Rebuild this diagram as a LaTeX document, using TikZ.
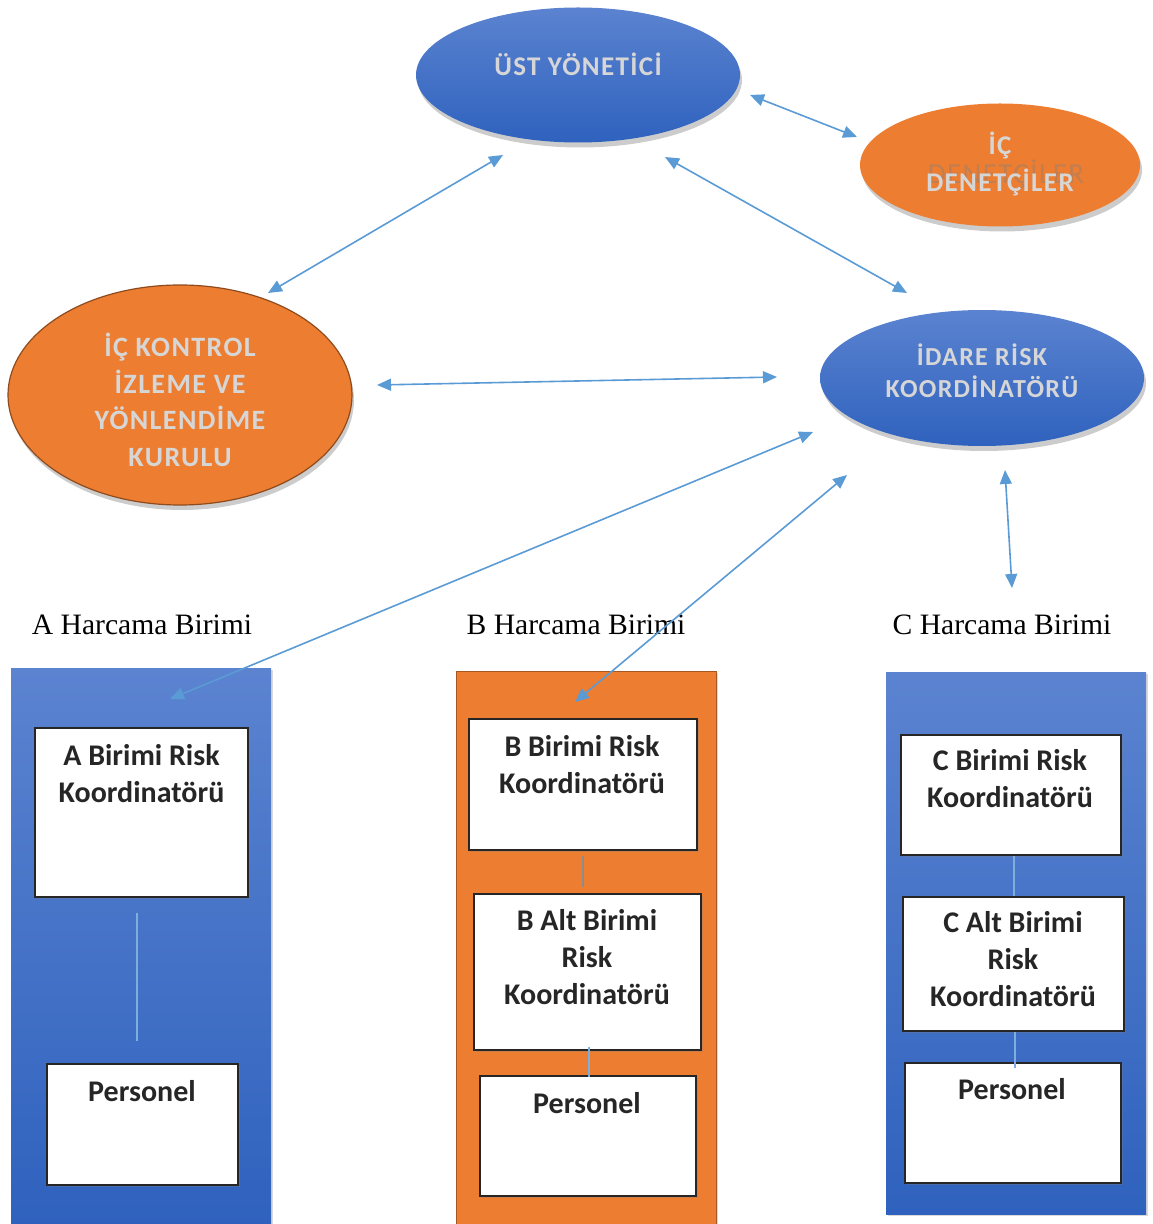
\documentclass[tikz,border=0pt]{standalone}
\usepackage{fontspec}
\setmainfont{Liberation Serif}
\newfontfamily\carlito{Carlito}
\newfontfamily\carlitols{Carlito}[LetterSpace=5]
\usetikzlibrary{shapes.geometric,arrows.meta,shadows}
\definecolor{bluetop}{HTML}{5B83D0}
\definecolor{bluebot}{HTML}{2F62BE}
\definecolor{orng}{HTML}{ED7D31}
\definecolor{conn}{HTML}{5B9BD5}
\definecolor{etxt}{HTML}{D6D6D6}
\tikzset{
  ell/.style={ellipse, inner sep=0pt, drop shadow={shadow xshift=1pt, shadow yshift=-2.5pt, opacity=0.4}},
  blueell/.style={ell, top color=bluetop, bottom color=bluebot},
  orell/.style={ell, fill=orng},
  etext/.style={font=\carlitols\bfseries\fontsize{13.5}{18.5}\selectfont, text=etxt, align=center, inner sep=0pt},
  link/.style={draw=conn, line width=0.8pt, {Triangle[length=7pt,width=6pt]}-{Triangle[length=7pt,width=6pt]}},
  outerblue/.style={rectangle, inner sep=0pt, top color=bluetop, bottom color=bluebot, drop shadow={shadow xshift=1pt, shadow yshift=-1pt, opacity=0.3}},
  outeror/.style={rectangle, inner sep=0pt, fill=orng, draw=orng!70!black, line width=0.4pt, drop shadow={shadow xshift=1pt, shadow yshift=-1pt, opacity=0.3}},
  inbox/.style={rectangle, draw=black!85, line width=1pt, fill=white, inner sep=0pt, drop shadow={shadow xshift=1pt, shadow yshift=-1pt, opacity=0.3}},
  btext/.style={font=\carlito\bfseries\fontsize{15}{18.5}\selectfont, align=center, inner sep=0pt, text=black!85},
  hlabel/.style={font=\fontsize{14.8}{17}\selectfont, inner sep=0pt},
  inline/.style={draw=conn!80, line width=0.6pt},
  greyline/.style={draw=black!45, line width=0.9pt}
}
\begin{document}
\begin{tikzpicture}[x=0.5pt,y=-0.5pt]
\useasboundingbox (0,0) rectangle (1152,1224);

% ellipses
\node[blueell, minimum width=162pt, minimum height=67.5pt] (ust) at (578,75) {};
\node[etext] (ustt) at (578,64) {ÜST YÖNETİCİ};

\node[orell, minimum width=140pt, minimum height=61.5pt] (ic) at (1000,165) {};
\node[etext, text=black!50, opacity=0.4, font=\carlitols\fontsize{14.5}{18}\selectfont] (icghost) at (1006,174) {DENETÇİLER};
\node[etext] (ict) at (1000,164) {İÇ\\DENETÇİLER};

\node[orell, draw=orng!60!black, line width=0.6pt, minimum width=172pt, minimum height=110pt] (kurul) at (180,395) {};
\node[etext, font=\carlitols\bfseries\fontsize{14}{18.3}\selectfont] (kurult) at (180,400) {İÇ KONTROL\\İZLEME VE\\YÖNLENDİME\\KURULU};

\node[blueell, minimum width=162pt, minimum height=68pt] (idare) at (982,378) {};
\node[etext, font=\carlitols\bfseries\fontsize{13}{16}\selectfont] (idaret) at (982,371) {İDARE RİSK\\KOORDİNATÖRÜ};

% labels
\node[hlabel] (la) at (142,625) {A Harcama Birimi};
\node[hlabel] (lb) at (576,625) {B Harcama Birimi};
\node[hlabel] (lc) at (1002,625) {C Harcama Birimi};

% outer boxes
\node[outerblue, minimum width=130pt, minimum height=278pt] (A) at (141,946) {};
\node[outeror, minimum width=130pt, minimum height=276.5pt] (B) at (586,947.5) {};
\node[outerblue, minimum width=130pt, minimum height=271pt] (C) at (1016,943) {};

% inner boxes
\node[inbox, minimum width=106.5pt, minimum height=84.5pt] (a1) at (141.5,812.5) {};
\node[inbox, minimum width=95.5pt, minimum height=60.5pt] (a2) at (142.5,1124.5) {};
\node[inbox, minimum width=114pt, minimum height=65.5pt] (b1) at (583,784.5) {};
\node[inbox, minimum width=113.5pt, minimum height=78pt] (b2) at (587.5,972) {};
\node[inbox, minimum width=108pt, minimum height=60pt] (b3) at (588,1136) {};
\node[inbox, minimum width=110pt, minimum height=60pt] (c1) at (1011,795) {};
\node[inbox, minimum width=110.5pt, minimum height=67pt] (c2) at (1013.5,964) {};
\node[inbox, minimum width=108pt, minimum height=60pt] (c3) at (1013,1123) {};

\node[btext] (a1t) at (141.5,774) {A Birimi Risk\\Koordinatörü};
\node[btext] (a2t) at (142,1091) {Personel};
\node[btext] (b1t) at (582,765) {B Birimi Risk\\Koordinatörü};
\node[btext] (b2t) at (587,957) {B Alt Birimi\\Risk\\Koordinatörü};
\node[btext] (b3t) at (587,1103) {Personel};
\node[btext] (c1t) at (1010,779) {C Birimi Risk\\Koordinatörü};
\node[btext] (c2t) at (1013,959) {C Alt Birimi\\Risk\\Koordinatörü};
\node[btext] (c3t) at (1012,1089) {Personel};

% inner connectors
\draw[inline, shorten <=7.5pt, shorten >=11pt] ([xshift=-2.25pt]a1.south) -- ([xshift=-2.75pt]a2.north);
\draw[greyline, shorten <=2.5pt, shorten >=3pt] (b1.south) -- ([xshift=-2.25pt]b2.north);
\draw[inline, shorten <=-2pt, shorten >=-1pt] ([xshift=0.75pt]b2.south) -- ([xshift=0.5pt]b3.north);
\draw[inline] ([xshift=1.5pt]c1.south) -- ([xshift=0.25pt]c2.north);
\draw[inline, shorten >=-3pt] ([xshift=0.75pt]c2.south) -- ([xshift=1pt]c3.north);

% arrow end points
\coordinate (p1a) at (750,95);   \coordinate (p1b) at (857,137);
\coordinate (p2a) at (503,155);  \coordinate (p2b) at (268,293);
\coordinate (p3a) at (665,157);  \coordinate (p3b) at (907,293);
\coordinate (p4a) at (377,385);  \coordinate (p4b) at (777,377);
\coordinate (p5a) at (813,432);  \coordinate (p5b) at (170,699);
\coordinate (p6a) at (847,475);  \coordinate (p6b) at (575,702);
\coordinate (p7a) at (1005,470); \coordinate (p7b) at (1012,588);

\draw[link] (p1a) -- (p1b);
\draw[link] (p2a) -- (p2b);
\draw[link] (p3a) -- (p3b);
\draw[link] (p4a) -- (p4b);
\draw[link] (p5a) -- (p5b);
\draw[link] (p6a) -- (p6b);
\draw[link] (p7a) -- (p7b);
\end{tikzpicture}
\end{document}
